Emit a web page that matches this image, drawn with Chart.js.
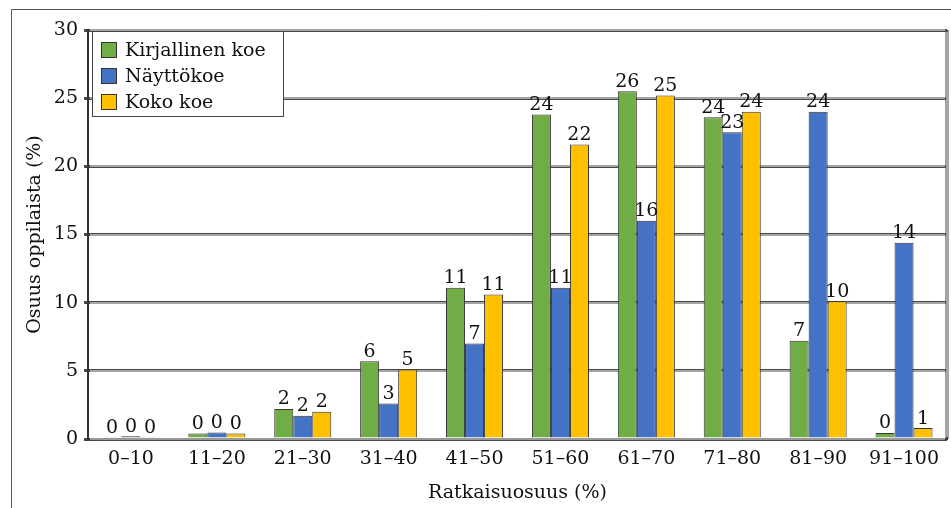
<!DOCTYPE html>
<html>
<head>
<meta charset="utf-8">
<script src="https://cdn.jsdelivr.net/npm/chart.js@4/dist/chart.umd.min.js"></script>
<style>
  html, body { margin: 0; padding: 0; background: #fff; }
  #wrap { width: 951px; height: 508px; position: relative; }
</style>
</head>
<body>
<div id="wrap"><canvas id="chart" width="951" height="508"></canvas></div>
<script>
const categories = ['0\u201310', '11\u201320', '21\u201330', '31\u201340', '41\u201350', '51\u201360', '61\u201370', '71\u201380', '81\u201390', '91\u2013100'];
const kirjallinen = [0.1, 0.4, 2.2, 5.7, 11.1, 23.8, 25.5, 23.6, 7.2, 0.44];
const nayttokoe = [0.2, 0.48, 1.7, 2.6, 7.0, 11.1, 16.0, 22.5, 24.0, 14.4];
const kokokoe = [0.1, 0.4, 2.0, 5.1, 10.6, 21.6, 25.2, 24.0, 10.1, 0.8];
const seriesNames = ['Kirjallinen koe', 'N\u00e4ytt\u00f6koe', 'Koko koe'];
const yTicks = [0, 5, 10, 15, 20, 25, 30];

const FONT = '"DejaVu Serif", "Liberation Serif", serif';
const FS = 19;

// frame, double grid lines, value labels and legend box
const extras = {
    id: 'extras',
    beforeDraw(chart) {
        const ctx = chart.ctx;
        ctx.save();
        ctx.strokeStyle = '#555';
        ctx.lineWidth = 1;
        ctx.beginPath();
        ctx.moveTo(11.5, 508);
        ctx.lineTo(11.5, 9.5);
        ctx.lineTo(951, 9.5);
        ctx.stroke();
        ctx.restore();
    },
    beforeDatasetsDraw(chart) {
        const ctx = chart.ctx;
        const y = chart.scales.y;
        const a = chart.chartArea;
        ctx.save();
        ctx.strokeStyle = '#fff';
        ctx.lineWidth = 1;
        yTicks.forEach(t => {
            const py = Math.round(y.getPixelForValue(t)) ;
            ctx.beginPath();
            ctx.moveTo(a.left + 2, py);
            ctx.lineTo(a.right - 2, py);
            ctx.stroke();
        });
        // right border
        ctx.strokeStyle = '#4a4a4a';
        ctx.lineWidth = 3;
        ctx.beginPath();
        ctx.moveTo(a.right, a.top);
        ctx.lineTo(a.right, a.bottom);
        ctx.stroke();
        ctx.strokeStyle = '#fff';
        ctx.lineWidth = 1;
        ctx.beginPath();
        ctx.moveTo(a.right, a.top + 2);
        ctx.lineTo(a.right, a.bottom - 2);
        ctx.stroke();
        ctx.restore();
    },
    afterDatasetsDraw(chart) {
        const ctx = chart.ctx;
        ctx.save();
        ctx.font = FS + 'px ' + FONT;
        ctx.fillStyle = '#111';
        ctx.textAlign = 'center';
        ctx.textBaseline = 'bottom';
        chart.data.datasets.forEach((ds, i) => {
            chart.getDatasetMeta(i).data.forEach((bar, j) => {
                ctx.fillText(String(Math.round(ds.data[j])), bar.x, bar.y);
            });
        });

        // legend box inside plot
        const lx = 92, ly = 31, lw = 191, lh = 85;
        ctx.fillStyle = '#fff';
        ctx.fillRect(lx, ly, lw, lh);
        ctx.strokeStyle = '#444';
        ctx.lineWidth = 1;
        ctx.strokeRect(lx + 0.5, ly + 0.5, lw, lh);
        ctx.textAlign = 'left';
        ctx.textBaseline = 'middle';
        chart.data.datasets.forEach((ds, i) => {
            const cy = 50 + i * 26;
            ctx.fillStyle = ds.backgroundColor;
            ctx.fillRect(101, cy - 8, 16, 16);
            ctx.strokeStyle = '#333';
            ctx.strokeRect(101.5, cy - 7.5, 15, 15);
            ctx.fillStyle = '#111';
            ctx.fillText(ds.label, 125, cy + 1);
        });
        ctx.restore();
    }
};

const colors = ['#70AD47', '#4472C4', '#FFC000'];
const values = [kirjallinen, nayttokoe, kokokoe];

new Chart(document.getElementById('chart').getContext('2d'), {
    type: 'bar',
    data: {
        labels: categories,
        datasets: values.map((v, i) => ({
            label: seriesNames[i],
            data: v,
            backgroundColor: colors[i],
            borderColor: '#333',
            borderWidth: 1,
            categoryPercentage: 0.664,
            barPercentage: 1
        }))
    },
    plugins: [extras],
    options: {
        responsive: false,
        animation: false,
        layout: { padding: { top: 30, right: 4, left: 24, bottom: 0 } },
        plugins: { legend: { display: false }, tooltip: { enabled: false } },
        scales: {
            x: {
                grid: { display: false, drawTicks: false },
                border: { display: true, color: '#333', width: 2 },
                ticks: { color: '#111', font: { family: FONT, size: FS }, padding: 9, maxRotation: 0 },
                title: { display: true, text: 'Ratkaisuosuus (%)', color: '#111', font: { family: FONT, size: FS }, padding: { top: 2 } },
                afterFit(s) { s.height = 69; }
            },
            y: {
                min: 0,
                max: 30,
                afterBuildTicks(s) { s.ticks = yTicks.map(v => ({ value: v })); },
                grid: { color: '#4a4a4a', lineWidth: 3, tickLength: 4 },
                border: { display: true, color: '#333', width: 2 },
                ticks: { color: '#111', font: { family: FONT, size: FS }, padding: 6 },
                title: { display: true, text: 'Osuus oppilaista (%)', color: '#111', font: { family: FONT, size: FS }, padding: { top: 0, bottom: 0 } },
                afterFit(s) { s.width = 64; }
            }
        }
    }
});
</script>
</body>
</html>
